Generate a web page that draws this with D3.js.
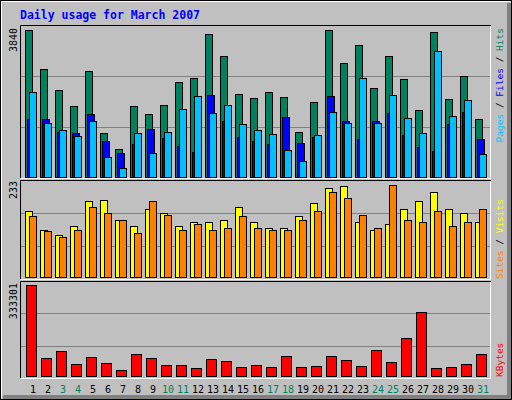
<!DOCTYPE html><html><head><meta charset="utf-8">
<script src="https://cdn.jsdelivr.net/npm/d3@7"></script>
<style>body{margin:0;background:#fff}svg{display:block}text{font-family:"DejaVu Sans Mono",monospace}</style></head><body>
<script>
const days=d3.range(1,32);
const weekend=[3,4,10,11,17,18,24,25,31];
const hits=[3840,2813,2247,1846,2743,1141,723,1846,1637,1872,2474,2578,3727,3153,2160,2056,2213,2082,1167,1951,3830,2970,3440,2317,3153,2552,1742,3780,2030,2630,1507];
const pages=[1515,1489,1175,1141,1637,932,619,836,1246,993,801,645,2134,1437,1019,932,836,1559,880,1019,2108,1455,984,1455,1663,1089,758,671,1376,1690,984];
const files=[2220,1403,1220,1071,1455,522,227,1141,619,1167,1768,2108,1663,1872,1376,1220,1115,697,410,1089,1690,1403,2578,1403,2134,1533,1141,3283,1585,2004,593];
const visits=[165,119,106,129,192,195,144,127,170,160,127,139,139,144,177,139,124,124,152,185,225,228,139,119,134,172,192,215,172,162,137];
const sites=[154,114,101,119,177,160,144,111,192,157,117,134,119,124,154,122,119,119,144,167,215,200,157,122,233,142,139,167,129,139,170];
const kbytes=[333301,63253,88797,41358,66902,45007,19462,77850,63253,37708,37708,26761,59604,52305,30410,37708,30410,70551,30410,34059,70551,55954,34059,92446,48656,136237,231116,26761,30410,41358,77850];
const maxHits=3840,maxVisits=233,maxKB=333301;

const svg=d3.select("body").append("svg").attr("width",512).attr("height",400);
svg.append("rect").attr("width",512).attr("height",400).attr("fill","#C0C0C0");
svg.append("rect").attr("x",0.5).attr("y",0.5).attr("width",511).attr("height",399).attr("fill","none").attr("stroke","#000");
svg.append("path").attr("d","M1.5,398V1.5H510").attr("stroke","#fff").attr("fill","none").attr("stroke-width",1);
svg.append("rect").attr("x",507).attr("y",3).attr("width",4).attr("height",396).attr("fill","#808080");
svg.append("rect").attr("x",3).attr("y",395).attr("width",508).attr("height",4).attr("fill","#808080");

svg.append("text").attr("x",20).attr("y",19).attr("fill","#0000FF").attr("font-weight","bold").attr("font-size","11.5px").text("Daily usage for March 2007");

const x=d3.scaleBand().domain(days).range([25,490]).paddingInner(0).paddingOuter(0);
const panels=[{top:25,bot:178},{top:180,bot:279},{top:281,bot:378}];
panels.forEach(p=>{
  const g=svg.append("g");
  [1,2].forEach(k=>{const yy=Math.round(p.top+(p.bot-p.top)*k/3)+0.5;
    g.append("line").attr("x1",21).attr("x2",490).attr("y1",yy).attr("y2",yy).attr("stroke","#808080");});
  g.append("path").attr("d",`M20.5,${p.bot}V${p.top+0.5}H491`).attr("stroke","#000").attr("fill","none");
  g.append("path").attr("d",`M21,${p.bot+0.5}H490.5V${p.top+1}`).attr("stroke","#fff").attr("fill","none");
});
const yTop=d3.scaleLinear().domain([0,maxHits]).range([176.5,29.5]);
const yMid=d3.scaleLinear().domain([0,maxVisits]).range([276.5,184.5]);
const yBot=d3.scaleLinear().domain([0,maxKB]).range([375.5,284.5]);
function bars(data,y,off,w,color){
  svg.append("g").selectAll("rect").data(data).join("rect")
   .attr("x",(d,i)=>x(days[i])+off+0.5).attr("width",w)
   .attr("y",d=>Math.round(y(d))+0.5).attr("height",d=>Math.max(0,y(0)-Math.round(y(d))))
   .attr("fill",color).attr("stroke","#000").attr("shape-rendering","crispEdges");
}
bars(hits,yTop,0,7,"#00805C");
bars(pages,yTop,2,7,"#0000FF");
bars(files,yTop,4,7,"#00C0FF");
bars(visits,yMid,0,7,"#FFFF00");
bars(sites,yMid,4,7,"#FF8000");
bars(kbytes,yBot,1,10,"#FF0000");

svg.append("g").selectAll("text").data(days).join("text")
  .attr("x",d=>x(d)+8).attr("y",393).attr("text-anchor","middle").attr("font-size","10px")
  .attr("fill",d=>weekend.includes(d)?"#00805C":"#000").text(d=>d);

function vlab(xp,yp,anchor,txt){return svg.append("text").attr("transform",`translate(${xp},${yp}) rotate(-90)`).attr("text-anchor",anchor).attr("font-size","10px").text(txt);}
vlab(17,28,"end",maxHits).attr("fill","#000");
vlab(17,181,"end",maxVisits).attr("fill","#000");
vlab(17,283,"end",maxKB).attr("fill","#000");
function colLab(xp,yp,anchor,parts){
  const t=svg.append("text").attr("transform",`translate(${xp},${yp}) rotate(-90)`).attr("text-anchor",anchor).attr("font-size","9.5px");
  parts.forEach(([s,c])=>t.append("tspan").attr("fill",c).text(s));
}
colLab(503,28,"end",[["Pages","#00C0FF"],[" / ","#000"],["Files","#0000FF"],[" / ","#000"],["Hits","#00805C"]]);
colLab(503,199,"end",[["Sites","#FF8000"],[" / ","#000"],["Visits","#FFFF00"]]);
colLab(503,377,"start",[["KBytes","#FF0000"]]);
</script></body></html>
